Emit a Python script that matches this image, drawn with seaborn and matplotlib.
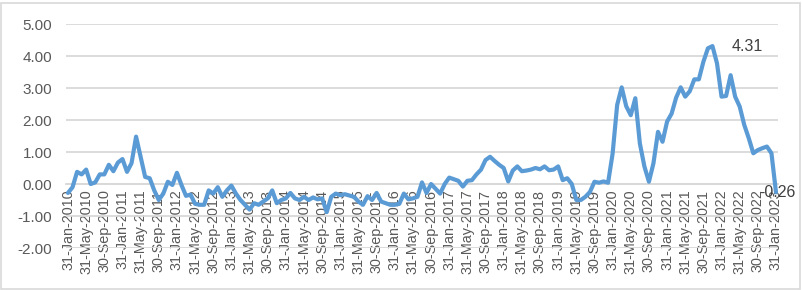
import matplotlib
matplotlib.use("Agg")
import numpy as np
import pandas as pd
import matplotlib.pyplot as plt
import seaborn as sns
from matplotlib.patches import Rectangle

# ---- data (monthly, Jan-2010 .. Jan-2023) ----
values_2010 = [-0.28, -0.10, 0.38, 0.30, 0.45, 0.00, 0.05, 0.30, 0.30, 0.60, 0.40, 0.67]
values_2011 = [0.78, 0.38, 0.65, 1.48, 0.85, 0.22, 0.18, -0.20, -0.50, -0.30, 0.07, -0.03]
values_2012 = [0.35, -0.03, -0.37, -0.33, -0.62, -0.65, -0.65, -0.20, -0.30, -0.10, -0.40, -0.20]
values_2013 = [-0.05, -0.30, -0.50, -0.65, -0.80, -0.60, -0.65, -0.55, -0.45, -0.20, -0.60, -0.50]
values_2014 = [-0.45, -0.28, -0.45, -0.50, -0.40, -0.50, -0.42, -0.48, -0.45, -0.88, -0.40, -0.30]
values_2015 = [-0.35, -0.32, -0.36, -0.40, -0.55, -0.65, -0.38, -0.50, -0.28, -0.55, -0.60, -0.65]
values_2016 = [-0.65, -0.62, -0.30, -0.48, -0.45, -0.40, 0.05, -0.28, 0.00, -0.15, -0.30, 0.00]
values_2017 = [0.20, 0.15, 0.10, -0.08, 0.10, 0.12, 0.30, 0.45, 0.75, 0.85, 0.72, 0.60]
values_2018 = [0.50, 0.08, 0.42, 0.55, 0.40, 0.42, 0.45, 0.50, 0.46, 0.55, 0.43, 0.45]
values_2019 = [0.55, 0.12, 0.18, 0.00, -0.50, -0.50, -0.40, -0.25, 0.07, 0.04, 0.08, 0.04]
values_2020 = [0.95, 2.47, 3.02, 2.43, 2.15, 2.68, 1.27, 0.55, 0.07, 0.65, 1.63, 1.32]
values_2021 = [1.95, 2.20, 2.70, 3.02, 2.73, 2.90, 3.27, 3.27, 3.82, 4.24, 4.31, 3.77]
values_2022 = [2.73, 2.75, 3.40, 2.73, 2.42, 1.85, 1.43, 0.96, 1.06, 1.12, 1.17, 0.96]
values_2023 = [-0.26]

values = (values_2010 + values_2011 + values_2012 + values_2013 + values_2014 +
          values_2015 + values_2016 + values_2017 + values_2018 + values_2019 +
          values_2020 + values_2021 + values_2022 + values_2023)

dates = pd.date_range("2010-01-31", periods=len(values), freq="ME")
date_labels = [f"{d.day}-{d.strftime('%b')}-{d.year}" for d in dates]

y_ticks = [-2, -1, 0, 1, 2, 3, 4, 5]
y_tick_labels = ["-2.00", "-1.00", "0.00", "1.00", "2.00", "3.00", "4.00", "5.00"]

annot_max_label = "4.31"
annot_last_label = "-0.26"

df = pd.DataFrame({"idx": np.arange(len(values)), "value": values, "label": date_labels})

# ---- figure ----
sns.set_theme(style="white")
plt.rcParams["font.family"] = ["Liberation Sans", "DejaVu Sans"]
plt.rcParams["axes.unicode_minus"] = False

W, H = 803, 290
fig = plt.figure(figsize=(W / 100, H / 100), dpi=100)
fig.patch.set_facecolor("white")
ax = fig.add_axes([66 / W, 1 - 248 / H, (778 - 66) / W, (248 - 24) / H])
ax.set_facecolor("none")

sns.lineplot(data=df, x="idx", y="value", ax=ax, color="#5B9BD5", linewidth=3.0,
             solid_joinstyle="round", solid_capstyle="round", zorder=3)

n = len(values)
pad = 2 / 4.538
ax.set_xlim(-pad, n - 1 + pad)
ax.set_ylim(-2, 5)

ax.set_yticks(y_ticks)
ax.set_yticklabels(y_tick_labels)
ax.yaxis.grid(True, color="#D9D9D9", linewidth=1.3, zorder=0)
ax.xaxis.grid(False)

tick_pos = df["idx"].values[::4]
ax.set_xticks(tick_pos)
ax.set_xticklabels([date_labels[i] for i in tick_pos])

for s in ["top", "right", "left"]:
    ax.spines[s].set_visible(False)
ax.spines["bottom"].set_position(("data", 0))
ax.spines["bottom"].set_color("#D9D9D9")
ax.spines["bottom"].set_linewidth(1.3)

ax.tick_params(axis="x", length=0, pad=4, labelsize=10.4, labelcolor="#595959",
               labelrotation=90)
ax.tick_params(axis="y", length=0, pad=10, labelsize=11, labelcolor="#595959")
for t in ax.get_xticklabels():
    t.set_va("top")
    t.set_ha("center")
ax.set_xlabel("")
ax.set_ylabel("")

imax = int(np.argmax(values))
ax.annotate(annot_max_label, xy=(imax, values[imax]), xytext=(14, 0),
            textcoords="offset points", ha="left", va="center",
            fontsize=11.5, color="#404040", zorder=5)
ax.annotate(annot_last_label, xy=(n - 1, values[-1]), xytext=(1, 0),
            textcoords="offset points", ha="center", va="center",
            fontsize=11.5, color="#404040", zorder=5, annotation_clip=False)

fig.patches.append(Rectangle((1.5 / W, 1.5 / H), (W - 4) / W, (H - 4) / H,
                             transform=fig.transFigure, fill=False,
                             edgecolor="#D9D9D9", linewidth=1.2))

fig.savefig("out.png", dpi=100)
